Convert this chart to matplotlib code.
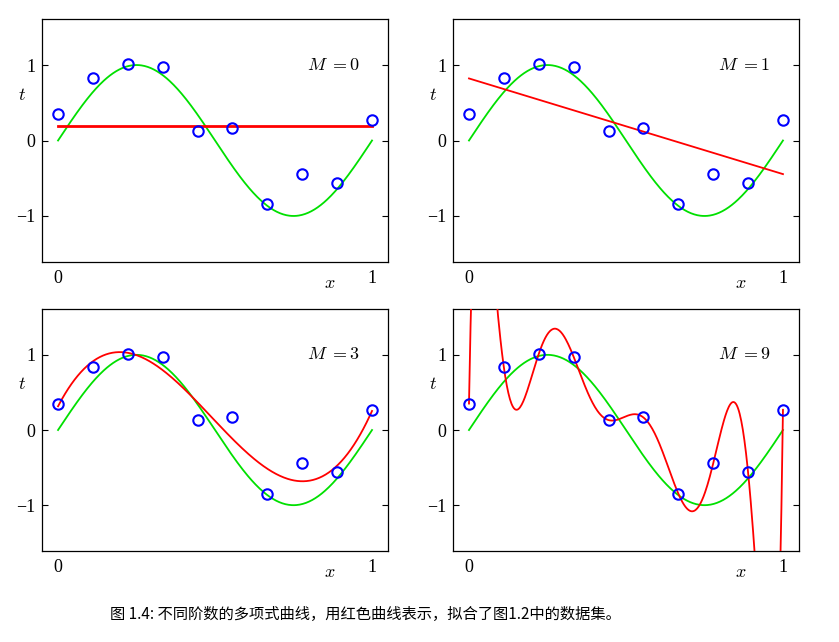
import numpy as np
import matplotlib as mpl
import matplotlib.pyplot as plt

# data points (x = 0, 1/9, ..., 1)
x_pts = [0, 1/9, 2/9, 3/9, 4/9, 5/9, 6/9, 7/9, 8/9, 1]
t_pts = [0.352, 0.833, 1.013, 0.974, 0.132, 0.167, -0.846, -0.445, -0.564, 0.269]
orders = [0, 1, 3, 9]
caption = '图 1.4: 不同阶数的多项式曲线，用红色曲线表示，拟合了图1.2中的数据集。'

mpl.rcParams['mathtext.fontset'] = 'cm'
mpl.rcParams['font.family'] = ['Liberation Serif', 'DejaVu Serif']

fig = plt.figure(figsize=(8.39, 6.42), dpi=100)

# axes boxes in figure fractions [left, bottom, width, height]
boxes = [[0.0501, 0.5919, 0.4124, 0.3785],
         [0.5399, 0.5919, 0.4124, 0.3785],
         [0.0501, 0.1417, 0.4124, 0.3770],
         [0.5399, 0.1417, 0.4124, 0.3770]]

xx = np.linspace(0, 1, 400)
green = np.sin(2 * np.pi * xx)  # true curve

for box, M in zip(boxes, orders):
    ax = fig.add_axes(box)
    coef = np.polyfit(x_pts, t_pts, M)
    fit = np.polyval(coef, xx)
    ax.plot(xx, green, color='#00e000', lw=1.3, zorder=2)
    ax.plot(xx, fit, color='red', lw=2.0 if M == 0 else 1.3, zorder=3)
    ax.plot(x_pts, t_pts, 'o', mfc='none', mec='blue', mew=1.5, ms=7.5, zorder=4)
    ax.set_xlim(-0.051, 1.051)
    ax.set_ylim(-1.61, 1.61)
    ax.set_xticks([0, 1])
    ax.set_yticks([-1, 0, 1])
    ax.set_yticklabels(['\u22121', '0', '1'])
    ax.tick_params(axis='y', direction='in', left=True, right=True, length=4, labelsize=13, pad=5)
    ax.tick_params(axis='x', length=0, labelsize=13, pad=6)
    for s in ax.spines.values():
        s.set_linewidth(0.9)
    ax.text(0.876, 1.0, '$M\\;= %d$' % M, ha='center', va='center', fontsize=13)
    ax.text(-0.115, 0.6, '$t$', ha='center', va='center', fontsize=13, clip_on=False)
    ax.text(0.865, -1.9, '$x$', ha='center', va='center', fontsize=13, clip_on=False)

fig.text(0.131, 0.043, caption, ha='left', va='center', fontsize=11,
         family=['Noto Sans CJK SC', 'DejaVu Sans'])

fig.savefig('out.png', dpi=100)
